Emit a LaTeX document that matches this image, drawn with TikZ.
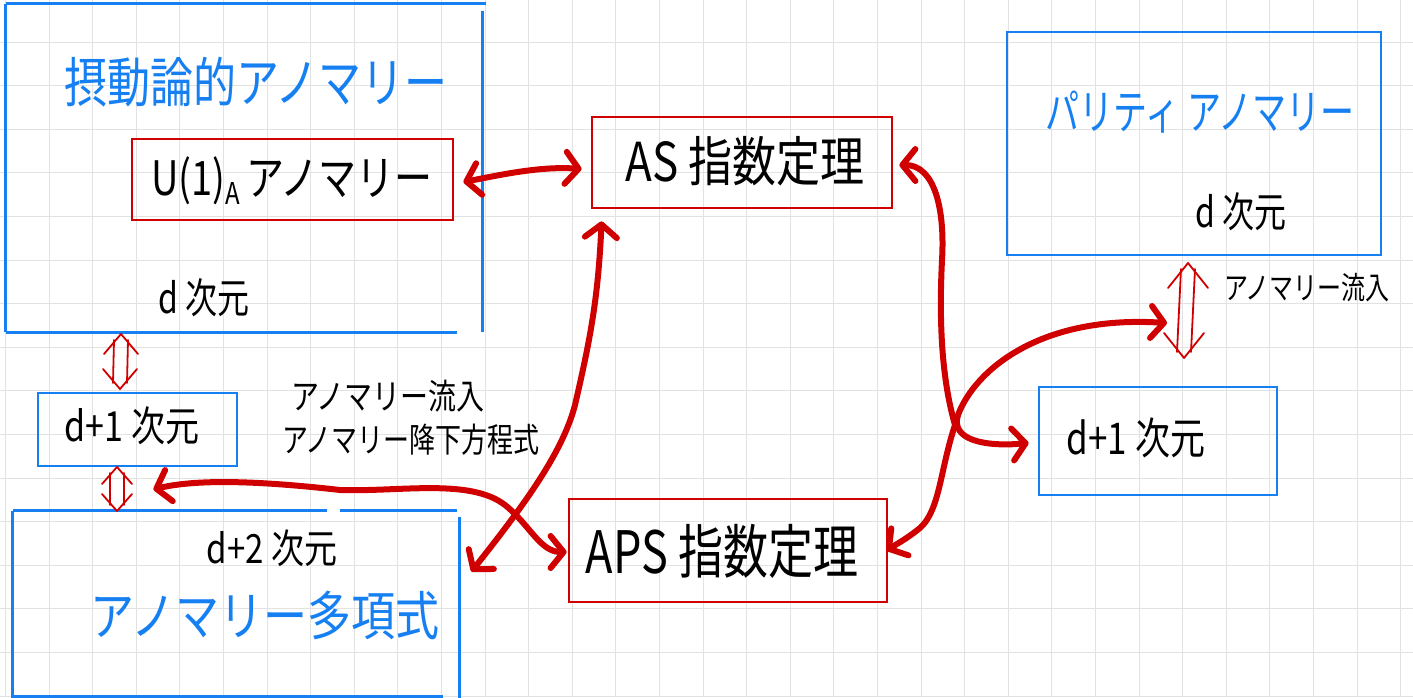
\documentclass[tikz,border=0pt]{standalone}
\usepackage{fontspec}
\usepackage{graphicx}
\setmainfont{Noto Sans CJK JP}
\usetikzlibrary{arrows.meta,calc}
\definecolor{penblue}{RGB}{22,128,242}
\definecolor{penred}{RGB}{208,0,0}
\definecolor{gridgray}{RGB}{226,226,226}
\newcommand{\myfs}[1]{\fontsize{#1}{#1}\selectfont}
\newcommand{\tallt}[2][1.22]{\scalebox{1}[#1]{#2}}
\newcommand{\myupdown}[4]{%
  \draw[thinred] ($(#1)+(-#3,#4)$) -- (#1) -- ($(#1)+(#3,#4)$);
  \draw[thinred] ($(#1)+(-7,6)$) -- ($(#2)+(-7,-6)$);
  \draw[thinred] ($(#1)+(7,6)$) -- ($(#2)+(7,-6)$);
  \draw[thinred] ($(#2)+(-#3,-#4)$) -- (#2) -- ($(#2)+(#3,-#4)$);
}
\tikzset{
  box/.style={rectangle, inner sep=0pt, line width=2.8pt},
  bbox/.style={box, draw=penblue},
  rbox/.style={box, draw=penred},
  blueline/.style={penblue, line width=2.8pt},
  txt/.style={inner sep=0pt},
  thinred/.style={penred, line width=1.8pt, line cap=round, line join=round},
  link/.style={penred, line width=6pt, line cap=round, line join=round,
    {Straight Barb[length=13pt,width=32pt,round]}-{Straight Barb[length=13pt,width=32pt,round]}},
  gridline/.style={gridgray, line width=1pt}
}
\begin{document}
\begin{tikzpicture}[x=1pt,y=-1pt]
\fill[white] (0,0) rectangle (1413,697);
\useasboundingbox (0,0) rectangle (1413,697);
\foreach \i in {0,...,32} \draw[gridline] ({5.5+43.6*\i},0) -- ({5.5+43.6*\i},697);
\foreach \j in {1,...,16} \draw[gridline] (0,{-1.6+43.6*\j}) -- (1413,{-1.6+43.6*\j});

% ---- left big box (perturbative anomaly), hand-drawn edges
\node[box, minimum width=474pt, minimum height=326pt] (pert) at (244,168) {};
\draw[blueline] (pert.north west) -- ($(pert.north east)+(4,0)$);
\draw[blueline] (pert.north west) -- (pert.south west);
\draw[blueline] (pert.south west) -- ($(pert.south east)+(-25,0)$);
\draw[blueline] ($(pert.north east)+(0,7)$) -- (pert.south east);
\node[txt, text=penblue, font=\myfs{43}] (pertT) at (256,82) {\tallt[1.25]{摂動論的アノマリー}};
\node[rbox, minimum width=321pt, minimum height=81pt] (u1) at (292.5,179.5) {};
\node[txt, font=\myfs{38}] (u1T) at (292,181) {\tallt[1.25]{U(1){\myfs{24}\raisebox{-7pt}{A}}\,アノマリー}};
\node[txt, font=\myfs{32}] (dL) at (204,298) {\tallt[1.3]{d 次元}};

% ---- left d+1 box
\node[bbox, minimum width=199pt, minimum height=73pt] (d1L) at (137.5,429.5) {};
\node[txt, font=\myfs{34}] (d1LT) at (132,426) {\tallt{d+1 次元}};

% ---- bottom-left box (anomaly polynomial), hand-drawn edges
\node[box, minimum width=444pt, minimum height=183pt] (poly) at (236,603.5) {};
\draw[blueline] (poly.north west) -- ($(poly.north west)+(314,0)$);
\draw[blueline] ($(poly.north west)+(327,0)$) -- ($(poly.north east)+(-2,0)$);
\draw[blueline] ($(poly.north east)+(0,6)$) -- ($(poly.south east)+(0,4)$);
\draw[blueline] (poly.north west) -- ($(poly.south west)+(0,4)$);
\draw[blueline] (poly.south west) -- ($(poly.south east)+(-16,0)$);
\node[txt, font=\myfs{33}] (d2T) at (272,548) {\tallt{d+2 次元}};
\node[txt, text=penblue, font=\myfs{44}] (polyT) at (265,615) {\tallt[1.2]{アノマリー多項式}};

% ---- labels
\node[txt, font=\myfs{28}] (inflowL) at (388,396) {\tallt[1.25]{アノマリー流入}};
\node[txt, font=\myfs{26}] (descentL) at (411,440) {\tallt[1.3]{アノマリー降下方程式}};

% ---- AS and APS index theorems
\node[rbox, minimum width=300pt, minimum height=91pt] (as) at (742,162.5) {};
\node[txt, font=\myfs{44}] (asT) at (745,161) {\tallt[1.22]{AS 指数定理}};
\node[rbox, minimum width=318pt, minimum height=103pt] (aps) at (728,550.5) {};
\node[txt, font=\myfs{45}] (apsT) at (722,551) {\tallt[1.3]{APS 指数定理}};

% ---- right side
\node[bbox, minimum width=374pt, minimum height=223pt] (par) at (1194,143.5) {};
\node[txt, text=penblue, font=\myfs{34}] (parT) at (1200,112) {\tallt[1.4]{パリティ アノマリー}};
\node[txt, font=\myfs{32}] (dR) at (1241,212) {\tallt[1.3]{d 次元}};
\node[bbox, minimum width=238pt, minimum height=108pt] (d1R) at (1158,441) {};
\node[txt, font=\myfs{35}] (d1RT) at (1136,438) {\tallt[1.25]{d+1 次元}};
\node[txt, font=\myfs{24}] (inflowR) at (1307,288) {\tallt[1.3]{アノマリー流入}};

% ---- thin double arrows between dimensions
\coordinate (ud1t) at (121,334);
\coordinate (ud1b) at (120,389);
\coordinate (ud2t) at (117,467);
\coordinate (ud2b) at (117,511);
\coordinate (ud3t) at (1188,263);
\coordinate (ud3b) at (1184,358);
\myupdown{ud1t}{ud1b}{17}{20}
\myupdown{ud2t}{ud2b}{15}{17}
\myupdown{ud3t}{ud3b}{20}{25}

% ---- thick red connectors
\draw[link] ($(u1.east)+(9,2.5)$) .. controls (500,175) and (540,166) .. ($(as.west)+(-9,6.5)$);
\draw[link] ($(as.south west)+(11,12)$) .. controls (598,300) and (590,340) .. (575,405)
   .. controls (562,455) and (520,510) .. ($(poly.north east)+(12,61)$);
\draw[link] ($(d1L.south east)+(-85,22)$) .. controls (200,478) and (270,482) .. (340,490)
   .. controls (400,492) and (470,478) .. (505,505)
   .. controls (530,525) and (540,552) .. ($(aps.west)+(-1,1.5)$);
\draw[link] ($(as.east)+(6,2.5)$) .. controls (935,165) and (945,210) .. (942,260)
   .. controls (938,340) and (945,390) .. (955,425)
   .. controls (940,470) and (940,510) .. (920,528)
   .. controls (905,540) and (895,545) .. ($(aps.east)+(-2,0)$);
\coordinate (inflowTip) at (1167,323);
\draw[link] ($(d1R.west)+(-9,2)$) .. controls (985,447) and (950,440) .. (958,415)
   .. controls (975,370) and (1040,315) .. (inflowTip);
\end{tikzpicture}
\end{document}
